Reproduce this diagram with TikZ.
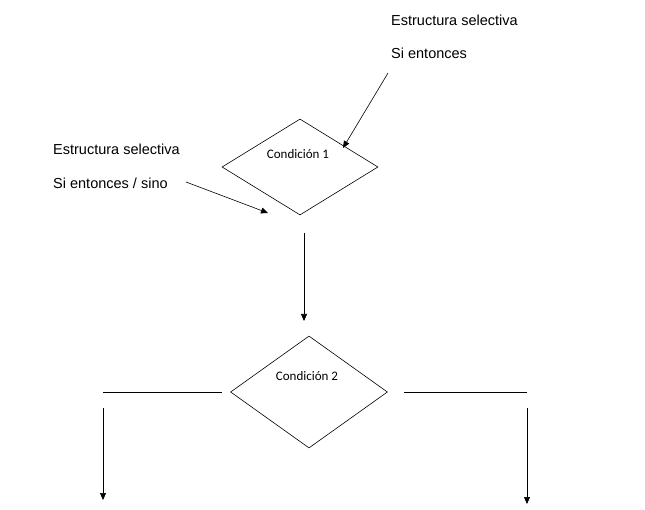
\documentclass[tikz,border=0pt]{standalone}
\usepackage{fontspec}
\setmainfont{Liberation Sans}
\newfontfamily\calib{Carlito}
\usetikzlibrary{shapes.geometric,arrows.meta}
\begin{document}
\begin{tikzpicture}[x=1pt,y=-1pt,
  cond/.style={draw,diamond,minimum width=156pt,minimum height=96pt,inner sep=0pt,line width=0.6pt},
  lbl/.style={font=\fontsize{14.5}{17}\selectfont,anchor=west,inner sep=0pt},
  ctext/.style={font=\calib\fontsize{13}{15}\selectfont,inner sep=0pt},
  arr/.style={-{Triangle[length=7pt,width=6pt]},line width=0.6pt},
  ln/.style={line width=0.6pt}]
\useasboundingbox (0,0) rectangle (645,510);
\node[cond] (d1) at (300,167) {};
\node[ctext] (t1) at (298,154) {Condición 1};
\node[cond,minimum width=157pt,minimum height=112pt] (d2) at (309,392) {};
\node[ctext] (t2) at (307,376) {Condición 2};
\node[lbl] (e1) at (391,20) {Estructura selectiva};
\node[lbl] (s1) at (391,53) {Si entonces};
\node[lbl] (e2) at (53,149) {Estructura selectiva};
\node[lbl] (s2) at (53,183) {Si entonces  / sino};
\coordinate (a1s) at (388,73);
\coordinate (a1e) at (343,148);
\coordinate (a2s) at (186,182);
\coordinate (a2e) at (268,213);
\coordinate (vs) at (304,233);
\coordinate (ve) at (304,321);
\coordinate (l1) at (103,392);
\coordinate (l2) at (222,392);
\coordinate (r1) at (404,392);
\coordinate (r2) at (527,392);
\coordinate (la) at (103,408);
\coordinate (lb) at (103,500);
\coordinate (ra) at (527,408);
\coordinate (rb) at (527,504);
\draw[arr] (a1s) -- (a1e);
\draw[arr] (a2s) -- (a2e);
\draw[arr] (vs) -- (ve);
\draw[ln] (l1) -- (l2);
\draw[ln] (r1) -- (r2);
\draw[arr] (la) -- (lb);
\draw[arr] (ra) -- (rb);
\end{tikzpicture}
\end{document}
